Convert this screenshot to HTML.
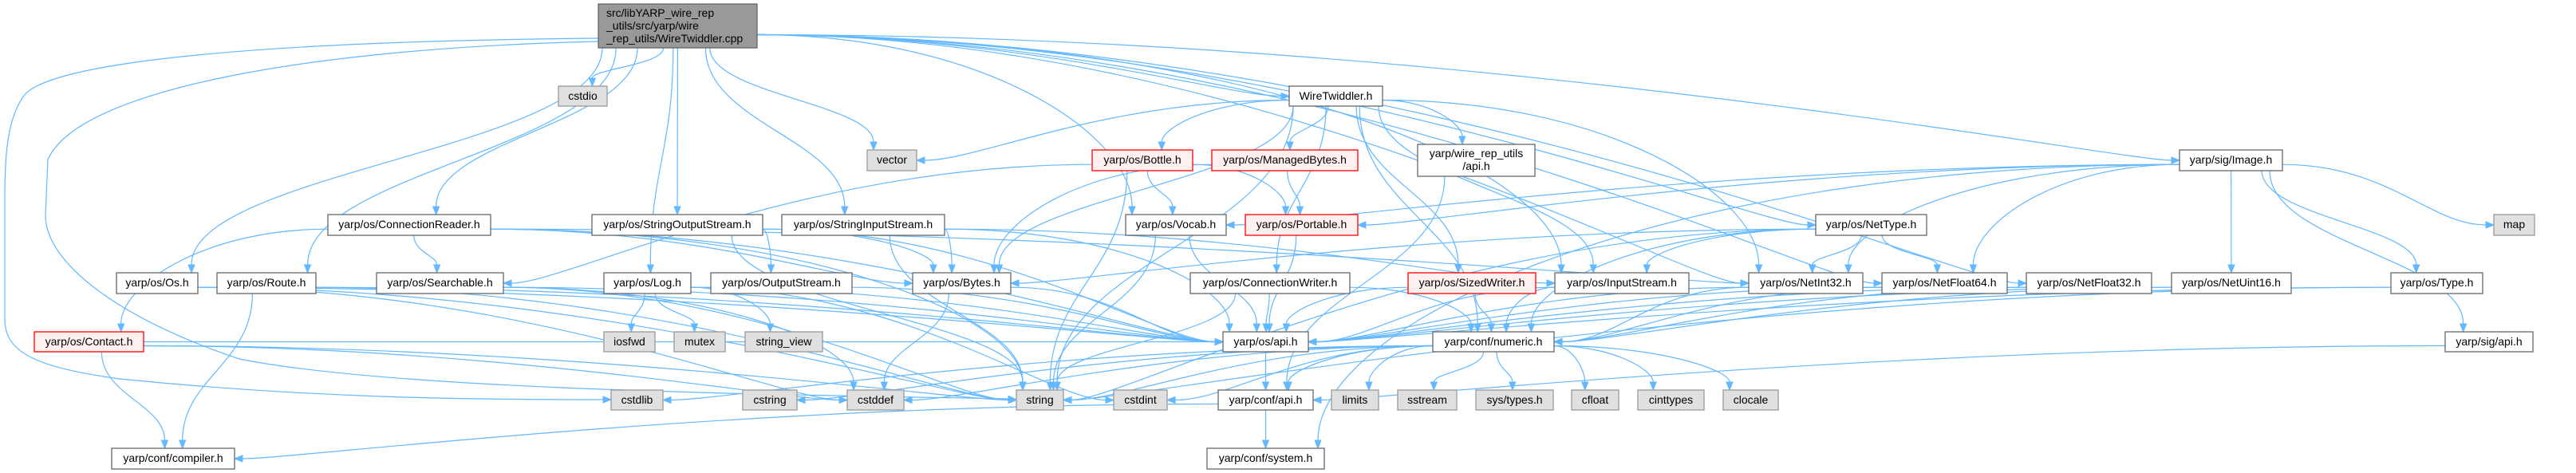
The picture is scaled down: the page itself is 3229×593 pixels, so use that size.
<!DOCTYPE html>
<html><head><meta charset="utf-8">
<style>
html,body{margin:0;padding:0;background:#fff;}
svg{display:block;}
text{font-family:"Liberation Sans","DejaVu Sans",sans-serif;font-size:14px;fill:#000;}
</style></head>
<body>
<svg id="s" width="3229" height="593" viewBox="0 0 3229 593" xmlns="http://www.w3.org/2000/svg">
<g id="edges" fill="none" stroke="#63b8ff" stroke-width="1.2">
<path d="M750,48 C300,52 60,80 30,120 C8,150 6,200 6,250 L6,400 C6,440 40,460 150,475 C400,500 600,501 756,501"/>
<path d="M750,52 C400,60 100,110 60,200 L57,270 C57,330 150,400 300,450 C500,490 1000,495 1264,500"/>
</g>
<g id="arrows" fill="#63b8ff" stroke="#63b8ff">
<polygon points="766,501 756,497 756,505"/>
<polygon points="1274,501 1264,496 1264,504"/>
</g>
<g id="nodes" stroke-width="1.3">
<rect x="750" y="5" width="199" height="55" fill="#999" stroke="#666"/>
<text x="760" y="21">src/libYARP_wire_rep</text>
<text x="760" y="37">_utils/src/yarp/wire</text>
<text x="760" y="53">_rep_utils/WireTwiddler.cpp</text>

<rect x="700" y="108" width="61" height="25" fill="#e0e0e0" stroke="#999"/><text x="730.5" y="125" text-anchor="middle">cstdio</text>
<rect x="1616" y="108" width="117" height="25" fill="#fff" stroke="#666"/><text x="1674.5" y="125" text-anchor="middle">WireTwiddler.h</text>

<rect x="1087" y="188" width="62" height="26" fill="#e0e0e0" stroke="#999"/><text x="1118" y="205" text-anchor="middle">vector</text>
<rect x="1369" y="188" width="126" height="26" fill="#fff0f0" stroke="#f00"/><text x="1432" y="205" text-anchor="middle">yarp/os/Bottle.h</text>
<rect x="1519" y="188" width="183" height="26" fill="#fff0f0" stroke="#f00"/><text x="1610.5" y="205" text-anchor="middle">yarp/os/ManagedBytes.h</text>
<rect x="1777" y="181" width="147" height="40" fill="#fff" stroke="#666"/><text x="1850.5" y="197" text-anchor="middle">yarp/wire_rep_utils</text><text x="1850.5" y="213" text-anchor="middle">/api.h</text>
<rect x="2732" y="188" width="129" height="26" fill="#fff" stroke="#666"/><text x="2796.5" y="205" text-anchor="middle">yarp/sig/Image.h</text>

<rect x="411" y="269" width="204" height="26" fill="#fff" stroke="#666"/><text x="513" y="286" text-anchor="middle">yarp/os/ConnectionReader.h</text>
<rect x="742" y="269" width="214" height="26" fill="#fff" stroke="#666"/><text x="849" y="286" text-anchor="middle">yarp/os/StringOutputStream.h</text>
<rect x="980" y="269" width="204" height="26" fill="#fff" stroke="#666"/><text x="1082" y="286" text-anchor="middle">yarp/os/StringInputStream.h</text>
<rect x="1411" y="269" width="126" height="26" fill="#fff" stroke="#666"/><text x="1474" y="286" text-anchor="middle">yarp/os/Vocab.h</text>
<rect x="1561" y="269" width="141" height="26" fill="#fff0f0" stroke="#f00"/><text x="1631.5" y="286" text-anchor="middle">yarp/os/Portable.h</text>
<rect x="2276" y="269" width="139" height="26" fill="#fff" stroke="#666"/><text x="2345.5" y="286" text-anchor="middle">yarp/os/NetType.h</text>
<rect x="3126" y="269" width="51" height="26" fill="#e0e0e0" stroke="#999"/><text x="3151.5" y="286" text-anchor="middle">map</text>

<rect x="146" y="342" width="102" height="26" fill="#fff" stroke="#666"/><text x="197" y="359" text-anchor="middle">yarp/os/Os.h</text>
<rect x="272" y="342" width="124" height="26" fill="#fff" stroke="#666"/><text x="334" y="359" text-anchor="middle">yarp/os/Route.h</text>
<rect x="472" y="342" width="159" height="26" fill="#fff" stroke="#666"/><text x="551.5" y="359" text-anchor="middle">yarp/os/Searchable.h</text>
<rect x="757" y="342" width="109" height="26" fill="#fff" stroke="#666"/><text x="811.5" y="359" text-anchor="middle">yarp/os/Log.h</text>
<rect x="891" y="342" width="177" height="26" fill="#fff" stroke="#666"/><text x="979.5" y="359" text-anchor="middle">yarp/os/OutputStream.h</text>
<rect x="1144" y="342" width="123" height="26" fill="#fff" stroke="#666"/><text x="1205.5" y="359" text-anchor="middle">yarp/os/Bytes.h</text>
<rect x="1492" y="342" width="200" height="26" fill="#fff" stroke="#666"/><text x="1592" y="359" text-anchor="middle">yarp/os/ConnectionWriter.h</text>
<rect x="1765" y="342" width="160" height="26" fill="#fff0f0" stroke="#f00"/><text x="1845" y="359" text-anchor="middle">yarp/os/SizedWriter.h</text>
<rect x="1949" y="342" width="168" height="26" fill="#fff" stroke="#666"/><text x="2033" y="359" text-anchor="middle">yarp/os/InputStream.h</text>
<rect x="2192" y="342" width="143" height="26" fill="#fff" stroke="#666"/><text x="2263.5" y="359" text-anchor="middle">yarp/os/NetInt32.h</text>
<rect x="2359" y="342" width="157" height="26" fill="#fff" stroke="#666"/><text x="2437.5" y="359" text-anchor="middle">yarp/os/NetFloat64.h</text>
<rect x="2540" y="342" width="157" height="26" fill="#fff" stroke="#666"/><text x="2618.5" y="359" text-anchor="middle">yarp/os/NetFloat32.h</text>
<rect x="2722" y="342" width="150" height="26" fill="#fff" stroke="#666"/><text x="2797" y="359" text-anchor="middle">yarp/os/NetUint16.h</text>
<rect x="2997" y="342" width="115" height="26" fill="#fff" stroke="#666"/><text x="3054.5" y="359" text-anchor="middle">yarp/os/Type.h</text>

<rect x="43" y="416" width="137" height="25" fill="#fff0f0" stroke="#f00"/><text x="111.5" y="433" text-anchor="middle">yarp/os/Contact.h</text>
<rect x="757" y="416" width="64" height="25" fill="#e0e0e0" stroke="#999"/><text x="789" y="433" text-anchor="middle">iosfwd</text>
<rect x="845" y="416" width="64" height="25" fill="#e0e0e0" stroke="#999"/><text x="877" y="433" text-anchor="middle">mutex</text>
<rect x="934" y="416" width="97" height="25" fill="#e0e0e0" stroke="#999"/><text x="982.5" y="433" text-anchor="middle">string_view</text>
<rect x="1533" y="416" width="107" height="25" fill="#fff" stroke="#666"/><text x="1586.5" y="433" text-anchor="middle">yarp/os/api.h</text>
<rect x="1796" y="416" width="152" height="25" fill="#fff" stroke="#666"/><text x="1872" y="433" text-anchor="middle">yarp/conf/numeric.h</text>
<rect x="3065" y="416" width="110" height="25" fill="#fff" stroke="#666"/><text x="3120" y="433" text-anchor="middle">yarp/sig/api.h</text>

<rect x="766" y="489" width="65" height="25" fill="#e0e0e0" stroke="#999"/><text x="798.5" y="506" text-anchor="middle">cstdlib</text>
<rect x="931" y="489" width="68" height="25" fill="#e0e0e0" stroke="#999"/><text x="965" y="506" text-anchor="middle">cstring</text>
<rect x="1062" y="489" width="71" height="25" fill="#e0e0e0" stroke="#999"/><text x="1097.5" y="506" text-anchor="middle">cstddef</text>
<rect x="1274" y="489" width="59" height="25" fill="#e0e0e0" stroke="#999"/><text x="1303.5" y="506" text-anchor="middle">string</text>
<rect x="1396" y="489" width="67" height="25" fill="#e0e0e0" stroke="#999"/><text x="1429.5" y="506" text-anchor="middle">cstdint</text>
<rect x="1527" y="489" width="119" height="25" fill="#fff" stroke="#666"/><text x="1586.5" y="506" text-anchor="middle">yarp/conf/api.h</text>
<rect x="1669" y="489" width="59" height="25" fill="#e0e0e0" stroke="#999"/><text x="1698.5" y="506" text-anchor="middle">limits</text>
<rect x="1752" y="489" width="74" height="25" fill="#e0e0e0" stroke="#999"/><text x="1789" y="506" text-anchor="middle">sstream</text>
<rect x="1850" y="489" width="97" height="25" fill="#e0e0e0" stroke="#999"/><text x="1898.5" y="506" text-anchor="middle">sys/types.h</text>
<rect x="1970" y="489" width="59" height="25" fill="#e0e0e0" stroke="#999"/><text x="1999.5" y="506" text-anchor="middle">cfloat</text>
<rect x="2053" y="489" width="83" height="25" fill="#e0e0e0" stroke="#999"/><text x="2094.5" y="506" text-anchor="middle">cinttypes</text>
<rect x="2160" y="489" width="69" height="25" fill="#e0e0e0" stroke="#999"/><text x="2194.5" y="506" text-anchor="middle">clocale</text>

<rect x="140" y="562" width="154" height="26" fill="#fff" stroke="#666"/><text x="217" y="579" text-anchor="middle">yarp/conf/compiler.h</text>
<rect x="1513" y="562" width="147" height="26" fill="#fff" stroke="#666"/><text x="1586.5" y="579" text-anchor="middle">yarp/conf/system.h</text>
</g>
</svg>
<script>
var N={
main:[750,5,949,60],cstdio:[700,108,761,133],wt:[1616,108,1733,133],
vector:[1087,188,1149,214],bottle:[1369,188,1495,214],mb:[1519,188,1702,214],wapi:[1777,181,1924,221],image:[2732,188,2861,214],
cr:[411,269,615,295],sos:[742,269,956,295],sis:[980,269,1184,295],vocab:[1411,269,1537,295],portable:[1561,269,1702,295],nettype:[2276,269,2415,295],map:[3126,269,3177,295],
os:[146,342,248,368],route:[272,342,396,368],search:[472,342,631,368],log:[757,342,866,368],ostream:[891,342,1068,368],bytes:[1144,342,1267,368],cw:[1492,342,1692,368],sized:[1765,342,1925,368],istream:[1949,342,2117,368],ni32:[2192,342,2335,368],nf64:[2359,342,2516,368],nf32:[2540,342,2697,368],nu16:[2722,342,2872,368],type:[2997,342,3112,368],
contact:[43,416,180,441],iosfwd:[757,416,821,441],mutex:[845,416,909,441],sv:[934,416,1031,441],osapi:[1533,416,1640,441],numeric:[1796,416,1948,441],sigapi:[3065,416,3175,441],
cstdlib:[766,489,831,514],cstring:[931,489,999,514],cstddef:[1062,489,1133,514],string:[1274,489,1333,514],cstdint:[1396,489,1463,514],confapi:[1527,489,1646,514],limits:[1669,489,1728,514],sstream:[1752,489,1826,514],systypes:[1850,489,1947,514],cfloat:[1970,489,2029,514],cinttypes:[2053,489,2136,514],clocale:[2160,489,2229,514],
compiler:[140,562,294,588],system:[1513,562,1660,588]};
var E=[
["main","cstdio"],["main","vector"],["main","wt"],["main","cr"],["main","sos"],["main","sis"],["main","os"],["main","route"],["main","log"],["main","vocab"],["main","istream"],["main","nettype"],["main","ni32"],["main","nf64"],["main","nf32"],["main","image"],
["wt","vector"],["wt","string"],["wt","bottle"],["wt","mb"],["wt","wapi"],["wt","cw"],["wt","sized"],["wt","istream"],["wt","ni32"],["wt","bytes"],["wt","numeric"],
["bottle","search"],["bottle","vocab"],["bottle","portable"],["bottle","string"],
["mb","bytes"],["mb","portable"],
["vocab","string"],["vocab","osapi"],["portable","osapi"],
["cr","contact"],["cr","search"],["cr","bytes"],["cr","osapi"],["cr","string"],["cr","ni32"],
["sos","ostream"],["sos","bytes"],["sos","string"],["sos","osapi"],
["sis","bytes"],["sis","istream"],["sis","string"],["sis","osapi"],
["os","osapi"],["os","string"],["os","cstddef"],
["route","compiler"],["route","osapi"],["route","string"],
["search","osapi"],["search","string"],["search","cstddef"],
["log","iosfwd"],["log","mutex"],["log","sv"],["log","cstdint"],["log","osapi"],
["contact","compiler"],["contact","string"],["contact","cstddef"],["contact","osapi"],
["ostream","osapi"],["bytes","cstddef"],["bytes","osapi"],
["cw","osapi"],["cw","numeric"],["cw","string"],
["sized","osapi"],["sized","numeric"],
["istream","osapi"],["istream","numeric"],
["ni32","osapi"],["ni32","numeric"],["nf64","osapi"],["nf64","numeric"],["nf32","osapi"],["nf32","numeric"],["nu16","osapi"],["nu16","numeric"],
["nettype","istream"],["nettype","ni32"],["nettype","nf64"],["nettype","bytes"],["nettype","numeric"],["nettype","string"],
["image","vocab"],["image","portable"],["image","ni32"],["image","nu16"],["image","type"],["image","map"],["image","sigapi"],["image","system"],["image","nf64"],
["type","osapi"],["type","string"],["sigapi","confapi"],["osapi","confapi"],["wapi","confapi"],
["numeric","limits"],["numeric","sstream"],["numeric","systypes"],["numeric","cfloat"],["numeric","cinttypes"],["numeric","clocale"],["numeric","cstdint"],["numeric","cstddef"],["numeric","cstring"],["numeric","string"],["numeric","cstdlib"],["numeric","confapi"],
["confapi","system"],["confapi","compiler"]];
var ge=document.getElementById("edges"),ga=document.getElementById("arrows"),ns="http://www.w3.org/2000/svg";
E.forEach(function(e){
 var a=N[e[0]],b=N[e[1]];
 var acx=(a[0]+a[2])/2,bcx=(b[0]+b[2])/2;
 var sx,sy,tx,ty,c1x,c1y,c2x,c2y;
 if(b[1]>=a[3]-2){
  var dyAll=b[1]-a[3], dxAll=bcx-acx, right=dxAll>0;
  var sideStart=Math.abs(dxAll)>2.5*Math.max(dyAll,10) && (right?bcx>a[2]:bcx<a[0]);
  if(sideStart){sx=right?a[2]:a[0]; sy=a[3]-(a[3]-a[1])*0.3;}
  else{sx=Math.max(a[0]+5,Math.min(a[2]-5,acx+dxAll*0.15));sy=a[3];}
  tx=Math.max(b[0]+8,Math.min(b[2]-8,bcx-dxAll*0.1));ty=b[1];
  var dy=ty-sy;
  if(Math.abs(tx-sx)>dy*4){
   tx=right?b[0]:b[2]; ty=(b[1]+b[3])/2; dy=ty-sy;
   c1x=sideStart?sx+(tx-sx)*0.5:sx; c1y=sideStart?sy:sy+dy*0.5;
   c2x=tx+(right?-80:80); c2y=ty;
  } else {
   c1x=sideStart?sx+(tx-sx)*0.6:sx; c1y=sideStart?sy:sy+dy*0.45;
   c2x=tx; c2y=ty-dy*0.45;
  }
 }else{
  var r2=bcx>acx; sx=r2?a[2]:a[0]; sy=(a[1]+a[3])/2; tx=r2?b[0]:b[2]; ty=(b[1]+b[3])/2;
  c1x=sx+(tx-sx)*0.4;c1y=sy;c2x=tx-(tx-sx)*0.3;c2y=ty;
 }
 var dx=tx-c2x,dyy=ty-c2y,l=Math.sqrt(dx*dx+dyy*dyy)||1;dx/=l;dyy/=l;
 var ex=tx-dx*10,ey=ty-dyy*10;
 var p=document.createElementNS(ns,"path");
 p.setAttribute("d","M"+sx+","+sy+" C"+c1x+","+c1y+" "+c2x+","+c2y+" "+ex+","+ey);ge.appendChild(p);
 var px=-dyy,py=dx,q=document.createElementNS(ns,"polygon");
 q.setAttribute("points",tx+","+ty+" "+(ex+px*4)+","+(ey+py*4)+" "+(ex-px*4)+","+(ey-py*4));ga.appendChild(q);
});
</script>
</body></html>
